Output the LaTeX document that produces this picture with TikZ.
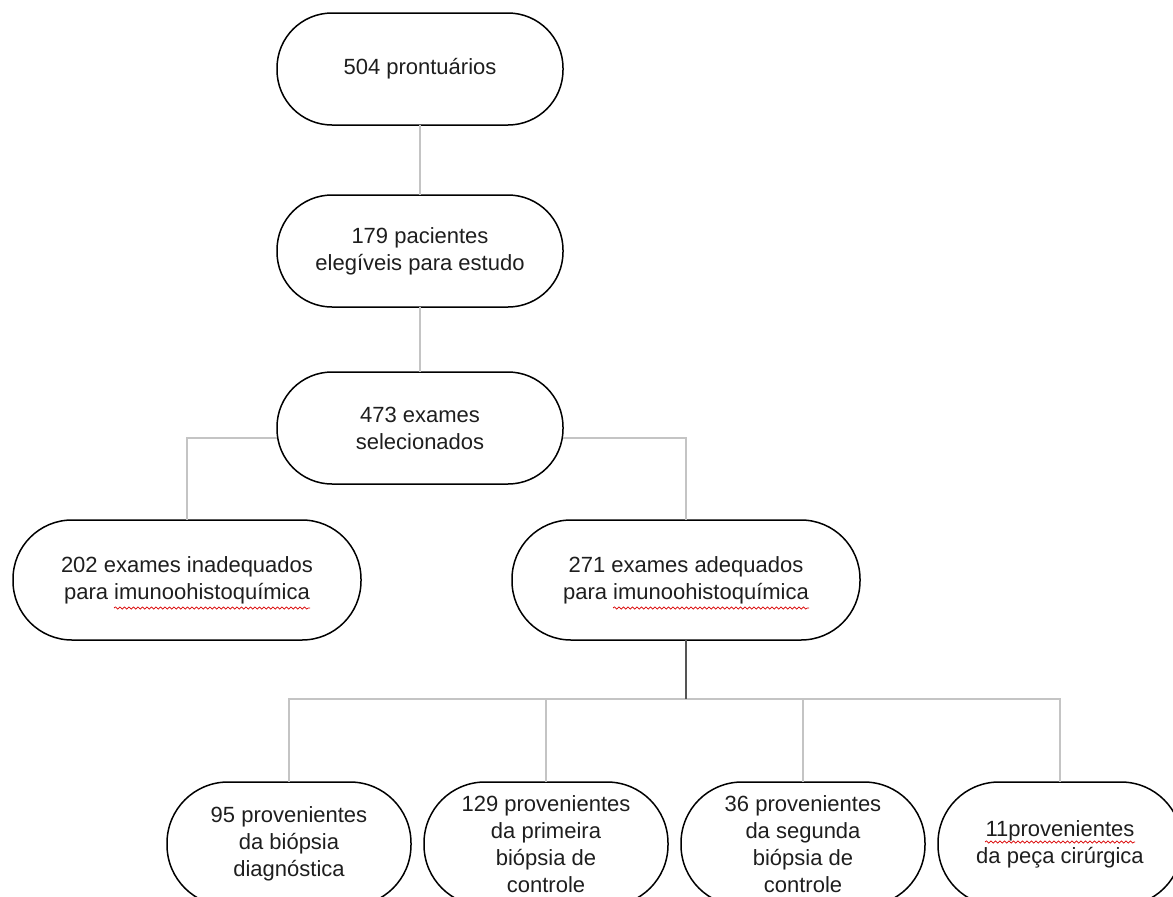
\documentclass[tikz,border=0pt]{standalone}
\usepackage{fontspec}
\setmainfont{Liberation Sans}
\usetikzlibrary{positioning,calc,decorations.pathmorphing}

\definecolor{linkGray}{HTML}{C4C4C4}
\definecolor{trunkGray}{HTML}{555555}
\definecolor{textBlack}{HTML}{1E1E1E}

\begin{document}
\begin{tikzpicture}[x=1pt,y=-1pt,node distance=70pt]
	%defines
	\tikzstyle{recordBox} = [rectangle, rounded corners=55pt, minimum width=286pt, minimum height=112pt, text centered, align=center, draw=black, line width=1.5pt, outer sep=0pt, text=textBlack, font=\fontsize{22}{27}\selectfont]
	\tikzstyle{examBox} = [rectangle, rounded corners=59pt, minimum width=348pt, minimum height=120pt, text centered, align=center, draw=black, line width=1.5pt, outer sep=0pt, text=textBlack, font=\fontsize{22}{27}\selectfont]
	\tikzstyle{originBox} = [rectangle, rounded corners=61pt, minimum width=244pt, minimum height=124pt, text centered, align=center, draw=black, line width=1.5pt, outer sep=0pt, text=textBlack, font=\fontsize{22}{27}\selectfont]
	\tikzstyle{link} = [draw=linkGray, line width=1.5pt]
	\tikzstyle{trunk} = [draw=trunkGray, line width=1.5pt]
	\tikzstyle{spellMark} = [draw=red!85!black, line width=0.7pt, decorate, decoration={snake, amplitude=1.1pt, segment length=4.5pt}]
	\useasboundingbox (0,0) rectangle (1173,897);
	%chart
	\node (prontuarios) [recordBox] at (420,69) {504 prontuários};
	\node (pacientes) [recordBox, below=70pt of prontuarios] {179 pacientes\\elegíveis para estudo};
	\node (selecionados) [recordBox, below=65pt of pacientes] {473 exames\\selecionados};
	\node (inadequados) [examBox, below=36pt of selecionados, xshift=-233pt] {202 exames inadequados\\para imunoohistoquímica};
	\node (adequados) [examBox, below=36pt of selecionados, xshift=266pt] {271 exames adequados\\para imunoohistoquímica};
	\node (diagnostica) [originBox, below=142pt of adequados, xshift=-397pt] {95 provenientes\\da biópsia\\diagnóstica};
	\node (primeira) [originBox, right=13pt of diagnostica] {129 provenientes\\da primeira\\biópsia de\\controle};
	\node (segunda) [originBox, right=13pt of primeira] {36 provenientes\\da segunda\\biópsia de\\controle};
	\node (cirurgica) [originBox, right=13pt of segunda] {11provenientes\\da peça cirúrgica};
	\coordinate (split) at (686,699);
	\draw [link] (prontuarios) -- (pacientes);
	\draw [link] (pacientes) -- (selecionados);
	\draw [link] ([yshift=-10pt]selecionados.west) -| (inadequados);
	\draw [link] ([yshift=-10pt]selecionados.east) -| (adequados);
	\draw [link] (diagnostica) |- (split) -| (cirurgica);
	\draw [link] (primeira) -- (primeira |- split);
	\draw [link] (segunda) -- (segunda |- split);
	\draw [trunk] (adequados) -- (split);
	%spell check marks
	\draw [spellMark] ($(inadequados.center)+(-73,28)$) -- ($(inadequados.center)+(123,28)$);
	\draw [spellMark] ($(adequados.center)+(-73,28)$) -- ($(adequados.center)+(123,28)$);
	\draw [spellMark] ($(cirurgica.center)+(-75,-2)$) -- ($(cirurgica.center)+(75,-2)$);
\end{tikzpicture}
\end{document}
